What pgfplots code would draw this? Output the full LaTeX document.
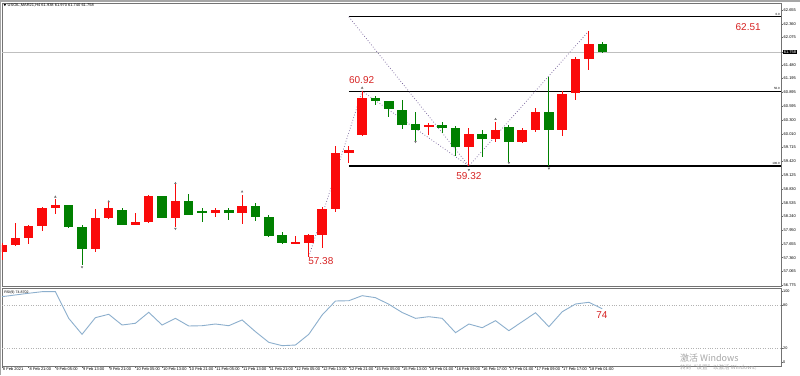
\documentclass[border=0pt]{standalone}
\usepackage{pgfplots}
\pgfplotsset{compat=1.18}
\usepackage{pgfplotstable}
\usepackage{fontspec}
\setmainfont{Liberation Sans}
\newfontfamily\cjk{Noto Sans CJK SC}

\definecolor{candup}{RGB}{250,10,10}
\definecolor{canddn}{RGB}{0,128,0}
\definecolor{zz}{RGB}{125,105,160}
\definecolor{rsic}{RGB}{140,175,205}
\definecolor{lbl}{RGB}{215,35,35}

\pgfplotstableread{
i o h l c
0 57.48 57.67 57.31 57.63
1 57.63 58.10 57.61 57.78
2 57.78 58.06 57.65 58.04
3 58.04 58.44 57.93 58.42
4 58.42 58.61 58.29 58.49
7 57.55 58.40 57.48 58.21
8 58.20 58.55 58.19 58.43
10 58.06 58.32 58.05 58.12
11 58.13 58.70 58.10 58.67
13 58.21 58.93 58.02 58.57
16 58.32 58.42 58.24 58.37
18 58.31 58.70 58.08 58.46
22 57.67 57.82 57.67 57.69
23 57.67 57.87 57.38 57.85
24 57.85 58.44 57.57 58.40
25 58.40 59.75 58.34 59.59
26 59.59 59.75 59.38 59.66
27 59.98 60.92 59.97 60.77
32 60.17 60.24 59.98 60.19
35 59.72 60.13 59.32 60.00
37 59.90 60.26 59.84 60.10
39 59.83 60.13 59.82 60.09
40 60.10 60.55 60.05 60.48
42 60.08 60.93 59.96 60.86
43 60.89 61.66 60.73 61.60
44 61.60 62.21 61.37 61.93
}\up

\pgfplotstableread{
i o h l c
5 58.48 58.49 58.00 58.02
6 58.02 58.06 57.20 57.55
9 58.38 58.42 58.05 58.06
12 58.67 58.68 58.21 58.21
14 58.57 58.72 58.27 58.27
15 58.36 58.43 58.13 58.32
17 58.37 58.42 58.17 58.32
19 58.46 58.54 58.14 58.24
20 58.24 58.28 57.80 57.83
21 57.84 57.90 57.66 57.67
28 60.77 60.82 60.62 60.72
29 60.70 60.72 60.37 60.53
30 60.52 60.73 60.11 60.20
31 60.21 60.48 59.85 60.09
33 60.19 60.27 60.03 60.14
34 60.14 60.18 59.53 59.73
36 60.01 60.09 59.52 59.89
38 60.16 60.20 59.41 59.83
41 60.48 61.23 59.32 60.08
45 61.938 61.970 61.740 61.758
}\dn

\pgfplotstableread{
i r
0 92.0
1 94.4
2 96.8
3 99.0
4 99.0
5 61.5
6 39.0
7 62.4
8 67.2
9 52.1
10 54.5
11 70.0
12 52.1
13 61.5
14 50.7
15 51.1
16 53.5
17 51.1
18 59.2
19 42.7
20 27.7
21 23.0
22 23.9
23 39.0
24 66.2
25 85.9
26 86.3
27 93.4
28 90.6
29 81.3
30 69.7
31 61.5
32 63.8
33 61.5
34 41.3
35 53.5
36 48.3
37 58.2
38 44.1
39 56.8
40 69.4
41 49.7
42 70.8
43 81.7
44 84.1
45 74.9
}\rsi

\begin{document}
\begin{tikzpicture}
\path[use as bounding box] (0pt,0pt) rectangle (800pt,375pt);
\fill[white] (0pt,0pt) rectangle (800pt,375pt);

% ---------------- main price pane ----------------
\begin{axis}[
  at={(2pt,89pt)}, anchor=south west, scale only axis,
  width=779pt, height=283pt,
  xmin=0, xmax=58.4, ymin=56.754, ymax=62.805,
  axis line style={black!55, line width=0.8pt},
  xtick=\empty,
  ytick={56.775,57.065,57.360,57.655,57.950,58.240,58.535,58.830,59.125,59.420,59.715,60.010,60.300,60.595,60.895,61.195,61.480,62.075,62.360,62.655},
  ytick pos=right, yticklabel pos=right,
  tick align=outside, major tick length=2pt, tick style={black!60, line width=0.4pt},
  /pgf/number format/assume math mode=true,
  yticklabel style={font=\fontsize{4}{4}\selectfont, inner sep=0.5pt, anchor=west,
    /pgf/number format/fixed, /pgf/number format/fixed zerofill, /pgf/number format/precision=3},
  extra y ticks={61.758},
  extra y tick style={yticklabel style={fill=black, text=white, inner sep=0.7pt}},
]
% bid line
\addplot[forget plot, black!25, line width=0.6pt] coordinates {(0,61.758) (58.4,61.758)};
% fibonacci levels
\addplot[forget plot, black, line width=1.4pt] coordinates {(26,62.51) (58.4,62.51)};
\addplot[forget plot, black, line width=1.4pt] coordinates {(26,60.915) (58.4,60.915)};
\addplot[forget plot, black, line width=1.4pt] coordinates {(26,59.32) (58.4,59.32)};
% dotted zigzag and fib diagonal
\addplot[forget plot, zz, dotted, line width=0.75pt] coordinates {(23,57.38) (27,60.92) (35,59.32) (44,62.21)};
\addplot[forget plot, zz, dotted, line width=0.75pt] coordinates {(26,62.51) (35,59.32)};
% wicks
\addplot[forget plot, draw=none, mark=none, error bars/.cd, y dir=both, y explicit, error mark=none,
  error bar style={draw=candup, solid, line width=0.9pt}]
  table[x=i, y expr={(\thisrow{h}+\thisrow{l})/2}, y error expr={(\thisrow{h}-\thisrow{l})/2}] {\up};
\addplot[forget plot, draw=none, mark=none, error bars/.cd, y dir=both, y explicit, error mark=none,
  error bar style={draw=canddn, solid, line width=0.9pt}]
  table[x=i, y expr={(\thisrow{h}+\thisrow{l})/2}, y error expr={(\thisrow{h}-\thisrow{l})/2}] {\dn};
% bodies
\addplot[forget plot, draw=none, mark=none, error bars/.cd, y dir=both, y explicit, error mark=none,
  error bar style={draw=candup, solid, line width=9.5pt}]
  table[x=i, y expr={(\thisrow{o}+\thisrow{c})/2}, y error expr={max(abs(\thisrow{c}-\thisrow{o})/2,0.022)}] {\up};
\addplot[forget plot, draw=none, mark=none, error bars/.cd, y dir=both, y explicit, error mark=none,
  error bar style={draw=canddn, solid, line width=9.5pt}]
  table[x=i, y expr={(\thisrow{o}+\thisrow{c})/2}, y error expr={max(abs(\thisrow{c}-\thisrow{o})/2,0.022)}] {\dn};
% fractal marks
\addplot[forget plot, only marks, mark=triangle*, mark size=1pt, black!55]
  coordinates {(4,58.66) (8,58.56) (13,58.95) (18,58.77) (27,60.99) (37,60.32)};
\addplot[forget plot, only marks, mark=triangle*, mark size=1pt, black!55, mark options={rotate=180}]
  coordinates {(6,57.16) (13,57.98) (31,59.84) (35,59.24) (38,59.39) (41,59.27)};
% annotations
\node[lbl, font=\fontsize{10}{10}\selectfont] at (axis cs:26.96,61.152) {60.92};
\node[lbl, font=\fontsize{10}{10}\selectfont] at (axis cs:55.94,62.281) {62.51};
\node[lbl, font=\fontsize{10}{10}\selectfont] at (axis cs:35.0,59.106) {59.32};
\node[lbl, font=\fontsize{10}{10}\selectfont] at (axis cs:23.9,57.289) {57.38};
\node[anchor=south east, inner sep=0.3pt, font=\fontsize{3}{3}\selectfont] at (axis cs:58.35,62.53) {0.0};
\node[anchor=south east, inner sep=0.3pt, font=\fontsize{3}{3}\selectfont] at (axis cs:58.35,60.935) {50.0};
\node[anchor=south east, inner sep=0.3pt, font=\fontsize{3}{3}\selectfont] at (axis cs:58.35,59.34) {100.0};
\end{axis}

% ---------------- RSI pane ----------------
\begin{axis}[
  at={(2pt,9pt)}, anchor=south west, scale only axis,
  width=779pt, height=78pt,
  xmin=0, xmax=58.4, ymin=-5.63, ymax=104.2,
  axis line style={black!55, line width=0.8pt},
  ytick={0,100}, extra y ticks={20,80},
  extra y tick style={ymajorgrids=true},
  major grid style={black!30, dotted, line width=0.5pt},
  ytick pos=right, yticklabel pos=right,
  tick align=outside, major tick length=1.5pt, tick style={black!60, line width=0.4pt},
  /pgf/number format/assume math mode=true,
  yticklabel style={font=\fontsize{3.8}{4}\selectfont, inner sep=0.5pt, anchor=west},
  xtick={0,2,...,44}, xtick pos=bottom,
  xticklabels={8 Feb 2021,8 Feb 21:00,9 Feb 05:00,9 Feb 13:00,9 Feb 21:00,10 Feb 05:00,10 Feb 13:00,10 Feb 21:00,11 Feb 05:00,11 Feb 13:00,11 Feb 21:00,12 Feb 05:00,12 Feb 13:00,12 Feb 21:00,15 Feb 05:00,15 Feb 13:00,16 Feb 01:00,16 Feb 09:00,16 Feb 17:00,17 Feb 01:00,17 Feb 09:00,17 Feb 17:00,18 Feb 01:00},
  xticklabel style={font=\fontsize{4}{4}\selectfont, anchor=north west, inner sep=0.3pt, xshift=0.5pt},
]
\addplot[rsic, line width=0.9pt, mark=none] table[x=i, y=r] {\rsi};
\node[anchor=north west, inner sep=0.5pt, font=\fontsize{3.6}{4}\selectfont] at (rel axis cs:0.002,0.97) {RSI(9) 74.8702};
\node[lbl, font=\fontsize{10}{10}\selectfont] at (axis cs:44.98,65.5) {74};
\end{axis}

% window frame and header
\fill[black!35] (0pt,373pt) rectangle (800pt,375pt);
\fill[black!35] (0pt,0pt) rectangle (1pt,375pt);
\fill[black] (3.5pt,371.2pt) -- (6.3pt,371.2pt) -- (4.9pt,368.8pt) -- cycle;
\node[anchor=west, inner sep=0pt, font=\fontsize{4}{4}\selectfont] at (7.5pt,370pt) {USOIL,MAR21,H4 61.938 61.970 61.740 61.758};
% watermark
\node[anchor=west, inner sep=0pt, text=black!35, font=\cjk\fontsize{9}{9}\selectfont] at (680pt,17.3pt) {激活 Windows};
\node[anchor=west, inner sep=0pt, text=black!35, font=\cjk\fontsize{5.5}{6}\selectfont] at (680pt,7.5pt) {转到“设置”以激活 Windows。};
\end{tikzpicture}
\end{document}
